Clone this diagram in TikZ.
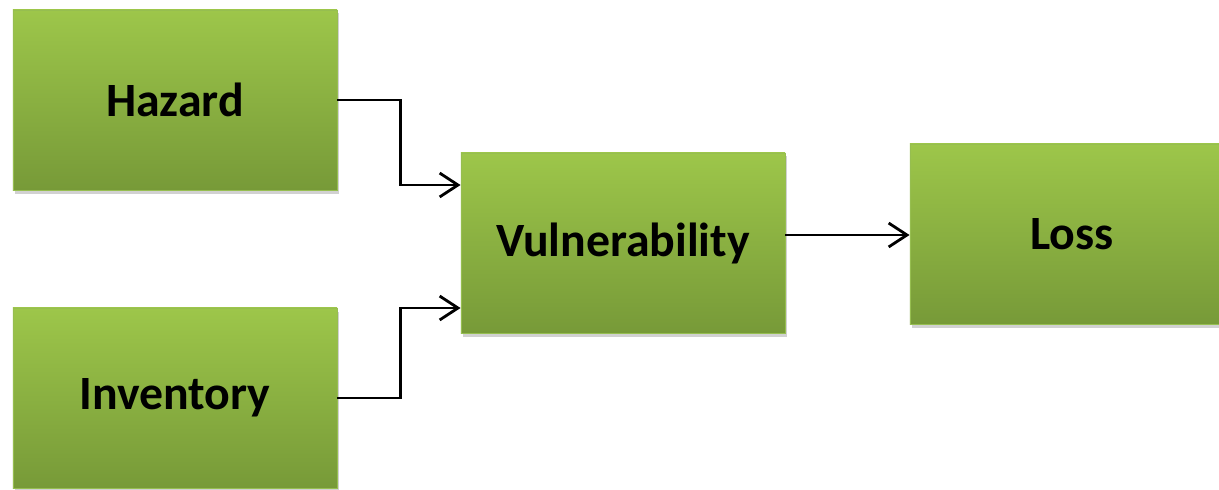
\documentclass[tikz,border=0pt]{standalone}
\usepackage{fontspec}
\setmainfont{Carlito}
\usetikzlibrary{shadows,calc}
\definecolor{boxtop}{RGB}{157,198,74}
\definecolor{boxbot}{RGB}{119,154,56}
\definecolor{boxedge}{RGB}{150,190,80}
\tikzset{
  riskbox/.style={draw=boxedge, line width=0.6pt, top color=boxtop, bottom color=boxbot,
    minimum width=8.1cm, minimum height=4.5cm, inner sep=0pt,
    font=\fontsize{34}{40}\selectfont\bfseries,
    drop shadow={shadow xshift=1.5pt, shadow yshift=-2.5pt, opacity=0.3, fill=black!60}},
  flow/.style={->, line width=2pt, >={Straight Barb[length=13pt, width=17pt, line width=2pt]}}
}
\usetikzlibrary{arrows.meta}
\begin{document}
\begin{tikzpicture}[x=0.025cm, y=-0.025cm]
    \useasboundingbox (0,0) rectangle (1219,489);
    \clip (0,0) rectangle (1219,489);
    \node[riskbox] at (175,100) (hazard) {Hazard};
    \node[riskbox] at (175,398) (inventory) {Inventory};
    \node[riskbox] at (623,243) (vuln) {Vulnerability};
    \node[riskbox] at (1072,234) (loss) {Loss};
    \draw[flow] (hazard.east) -- ++(63,0) |- ($(vuln.west)+(0,-58)$);
    \draw[flow] (inventory.east) -- ++(63,0) |- ($(vuln.west)+(0,65)$);
    \draw[flow] ($(vuln.east)+(0,-8)$) -- ($(loss.west)+(0,1)$);
\end{tikzpicture}
\end{document}
